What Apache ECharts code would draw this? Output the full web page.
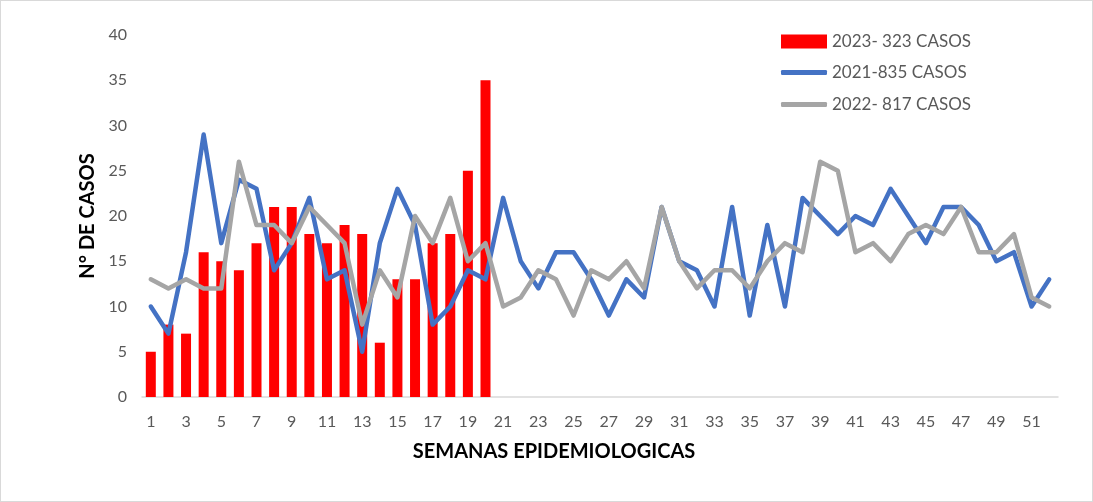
<!DOCTYPE html>
<html><head><meta charset="utf-8">
<script src="https://cdn.jsdelivr.net/npm/echarts@6/dist/echarts.min.js"></script>
<style>html,body{margin:0;padding:0;background:#fff}#c{width:1091px;height:500px;border:1px solid #d9d9d9}</style>
</head><body><div id="c"></div>
<script>
const weeks = Array.from({length: 52}, (_, i) => String(i + 1));
const cases2023 = [5,8,7,16,15,14,17,21,21,18,17,19,18,6,13,13,17,18,25,35];
const cases2021 = [10,7,16,29,17,24,23,14,17,22,13,14,5,17,23,19,8,10,14,13,22,15,12,16,16,13,9,13,11,21,15,14,10,21,9,19,10,22,20,18,20,19,23,20,17,21,21,19,15,16,10,13];
const cases2022 = [13,12,13,12,12,26,19,19,17,21,19,17,8,14,11,20,17,22,15,17,10,11,14,13,9,14,13,15,12,21,15,12,14,14,12,15,17,16,26,25,16,17,15,18,19,18,21,16,16,18,11,10];
const names = ['2023- 323 CASOS','2021-835 CASOS','2022- 817 CASOS'];
const yTitle = 'N° DE CASOS';
const xTitle = 'SEMANAS EPIDEMIOLOGICAS';
const font = 'Lato, "Open Sans", sans-serif';
const chart = echarts.init(document.getElementById('c'));
chart.setOption({
  animation: false,
  textStyle: {fontFamily: font},
  grid: {left: 141, right: 34, top: 34, bottom: 104},
  legend: [
    {data: [{name: names[0], icon: 'rect'}], left: 775, top: 27, itemWidth: 46, itemHeight: 14,
     textStyle: {color: '#595959', fontSize: 17, fontFamily: font}},
    {data: [{name: names[1], icon: 'roundRect'}, {name: names[2], icon: 'roundRect'}], orient: 'vertical',
     left: 775, top: 58, itemWidth: 46, itemHeight: 5, itemGap: 15,
     textStyle: {color: '#595959', fontSize: 17, fontFamily: font}}
  ],
  xAxis: {
    type: 'category', data: weeks,
    axisLine: {lineStyle: {color: '#d9d9d9', width: 1.5}},
    axisTick: {show: false},
    axisLabel: {interval: 1, color: '#595959', fontSize: 16, margin: 17, fontFamily: font}
  },
  yAxis: {
    type: 'value', min: 0, max: 40, interval: 5,
    splitLine: {show: false}, axisLine: {show: false}, axisTick: {show: false},
    axisLabel: {color: '#595959', fontSize: 16, margin: 15, fontFamily: font}
  },
  graphic: [
    {type: 'text', x: 87, y: 215, rotation: Math.PI / 2,
     style: {text: yTitle, fontSize: 20, fontWeight: 'bold', fill: '#000', fontFamily: font, align: 'center', verticalAlign: 'middle'}},
    {type: 'text', x: 553, y: 451,
     style: {text: xTitle, fontSize: 20, fontWeight: 'bold', fill: '#000', fontFamily: font, align: 'center', verticalAlign: 'middle'}}
  ],
  series: [
    {name: names[0], type: 'bar', data: cases2023, barWidth: 10, itemStyle: {color: '#ff0000'}},
    {name: names[1], type: 'line', data: cases2021, symbol: 'none', lineStyle: {color: '#4472c4', width: 4.5, cap: 'round', join: 'round'}, itemStyle: {color: '#4472c4'}},
    {name: names[2], type: 'line', data: cases2022, symbol: 'none', lineStyle: {color: '#a5a5a5', width: 4.5, cap: 'round', join: 'round'}, itemStyle: {color: '#a5a5a5'}}
  ]
});
</script></body></html>
